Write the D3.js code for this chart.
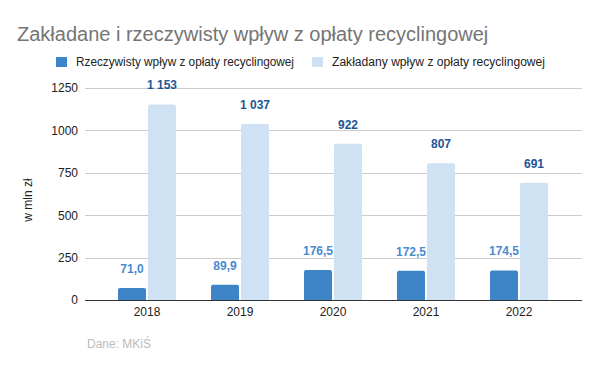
<!DOCTYPE html>
<html><head><meta charset="utf-8">
<script src="https://cdn.jsdelivr.net/npm/d3@7"></script>
<style>body{margin:0;background:#fff}svg{display:block}text{font-family:"Liberation Sans",Arial,sans-serif}</style>
</head><body>
<script>
const years = ["2018","2019","2020","2021","2022"];
const actual = [71.0, 89.9, 176.5, 172.5, 174.5];
const planned = [1153, 1037, 922, 807, 691];
const seriesNames = ["Rzeczywisty wpływ z opłaty recyclingowej","Zakładany wpływ z opłaty recyclingowej"];
const yTicks = [0, 250, 500, 750, 1000, 1250];

const W = 600, H = 371;
const svg = d3.select("body").append("svg").attr("width", W).attr("height", H);
svg.append("rect").attr("width", W).attr("height", H).attr("fill", "#fff");

const gx0 = 85, gx1 = 582;
const y = d3.scaleLinear().domain([0, 1250]).range([300, 88]);
const x = d3.scaleBand().domain(years).range([100.5, 565.5]).paddingInner(0).paddingOuter(0);
const colors = ["#3d85c6", "#cfe2f3"];
const labelColors = ["#4a8ad0", "#1c5596"];

svg.append("text").attr("x", 17).attr("y", 41).attr("font-size", 20).attr("fill", "#757575")
  .text("Zakładane i rzeczywisty wpływ z opłaty recyclingowej");

// legend
const legX = [56, 312];
const legW = [218, 213];
seriesNames.forEach((n, i) => {
  svg.append("rect").attr("x", legX[i]).attr("y", 57).attr("width", 11).attr("height", 10).attr("fill", colors[i]);
  svg.append("text").attr("x", legX[i] + 20).attr("y", 66).attr("font-size", 12.5).attr("fill", "#222")
    .attr("textLength", legW[i]).attr("lengthAdjust", "spacingAndGlyphs").text(n);
});

// grid
const grid = svg.append("g");
yTicks.forEach(t => {
  grid.append("line").attr("x1", gx0).attr("x2", gx1).attr("y1", Math.round(y(t)) + 0.5).attr("y2", Math.round(y(t)) + 0.5)
    .attr("stroke", t === 0 ? "#333" : "#ccc").attr("stroke-width", 1);
});
const yAxis = d3.axisLeft(y).tickValues(yTicks).tickSize(0).tickPadding(0).tickFormat(d => String(d));
const ya = svg.append("g").attr("transform", `translate(78,0)`).call(yAxis);
ya.select(".domain").remove();
ya.selectAll("text").attr("font-size", 12).attr("fill", "#222").attr("font-family", "Liberation Sans, Arial, sans-serif");

svg.append("text").attr("transform", "translate(32,200) rotate(-90)").attr("text-anchor", "middle")
  .attr("font-size", 12).attr("fill", "#222").text("w mln zł");

// bars
const bw = 28, gap = 2;
const fmtA = d => d.toFixed(1).replace(".", ",");
const fmtP = d => { const s = String(d); return s.length > 3 ? s.slice(0, s.length - 3) + " " + s.slice(-3) : s; };
[actual, planned].forEach((arr, si) => {
  const g = svg.append("g");
  arr.forEach((v, i) => {
    const cx = x(years[i]) + x.bandwidth() / 2;
    const bx = si === 0 ? cx - gap / 2 - bw : cx + gap / 2;
    const top = y(v);
    g.append("path").attr("fill", colors[si])
      .attr("d", `M${bx},300 L${bx},${top + 2} Q${bx},${top} ${bx + 2},${top} L${bx + bw - 2},${top} Q${bx + bw},${top} ${bx + bw},${top + 2} L${bx + bw},300 Z`);
    g.append("text").attr("x", bx + bw / 2).attr("y", top - 15).attr("text-anchor", "middle")
      .attr("font-size", 12).attr("font-weight", "bold").attr("fill", labelColors[si])
      .attr("font-family", "Roboto, sans-serif")
      .text(si === 0 ? fmtA(v) : fmtP(v));
  });
});
// redraw zero line on top
svg.append("line").attr("x1", gx0).attr("x2", gx1).attr("y1", 300.5).attr("y2", 300.5).attr("stroke", "#333");

// x axis
const xAxis = d3.axisBottom(x).tickSize(0).tickPadding(0);
const xa = svg.append("g").attr("transform", "translate(0,307)").call(xAxis);
xa.select(".domain").remove();
xa.selectAll("text").attr("font-size", 12).attr("fill", "#222").attr("font-family", "Liberation Sans, Arial, sans-serif").attr("dy", "0.71em");

svg.append("text").attr("x", 87).attr("y", 348).attr("font-size", 12).attr("fill", "#bbb").text("Dane: MKiŚ");
</script>
</body></html>
